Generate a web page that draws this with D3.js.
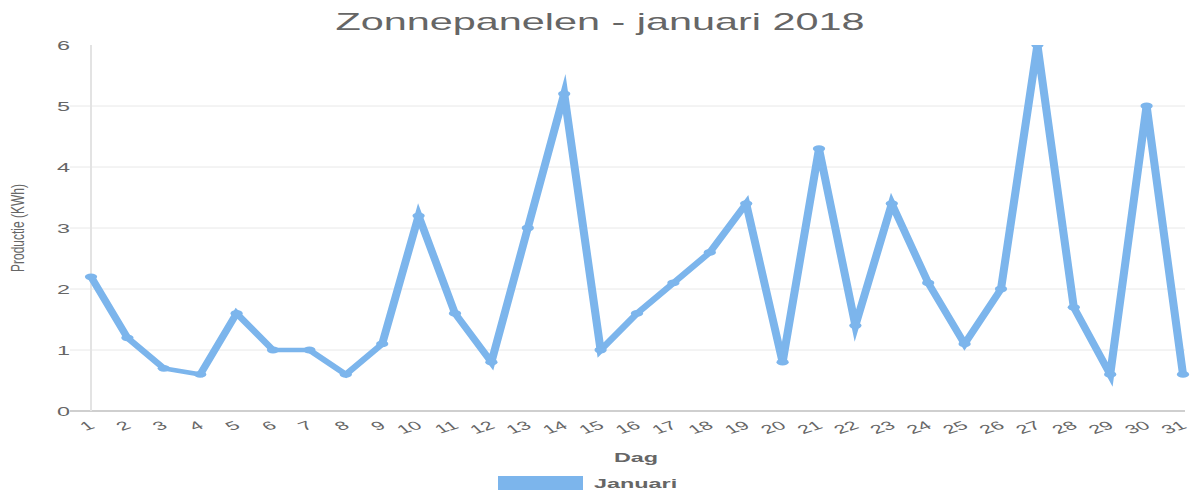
<!DOCTYPE html>
<html><head><meta charset="utf-8">
<script src="https://cdn.jsdelivr.net/npm/d3@7"></script>
<style>
html,body{margin:0;padding:0;background:#fff;}
text{font-family:"Liberation Sans",Arial,Helvetica,sans-serif;}
</style></head>
<body><svg id="c" width="1200" height="500"></svg>
<script>
const days = d3.range(1, 32).map(String);
const januari = [2.2,1.2,0.7,0.6,1.6,1.0,1.0,0.6,1.1,3.2,1.6,0.8,3.0,5.2,1.0,1.6,2.1,2.6,3.4,0.8,4.3,1.4,3.4,2.1,1.1,2.0,6.0,1.7,0.6,5.0,0.6];
const yTicks = [0,1,2,3,4,5,6];
const chartTitle = "Zonnepanelen - januari 2018";
const yTitle = "Productie (KWh)";
const xTitle = "Dag";
const seriesName = "Januari";

const SX = 1.8;           // horizontal stretch of the picture
const color = "rgb(124,181,236)";
const txt = "#666";
const pLeft = 91, pRight = 1183, pTop = 45, pBottom = 411;

const svg = d3.select("#c");
const y = d3.scaleLinear().domain([0, 6]).range([pBottom, pTop]);
const x = d3.scalePoint().domain(days).range([pLeft / SX, pRight / SX]);

// grid
svg.append("g").selectAll("line").data(yTicks.filter(d => d < 6)).join("line")
  .attr("x1", 70).attr("x2", 1185)
  .attr("y1", d => y(d)).attr("y2", d => y(d))
  .attr("stroke", d => d === 0 ? "#cfcfcf" : "#e8e8e8").attr("stroke-width", d => d === 0 ? 2 : 1);
svg.append("line").attr("x1", pLeft).attr("x2", pLeft).attr("y1", pTop).attr("y2", pBottom)
  .attr("stroke", "#e3e3e3").attr("stroke-width", 2);

// y tick labels
svg.append("g").selectAll("text").data(yTicks).join("text")
  .attr("transform", d => `translate(70,${y(d)}) scale(${SX},1)`)
  .attr("text-anchor", "end").attr("dy", "0.36em")
  .attr("font-size", 13).attr("fill", txt).text(d => d);

// x tick labels
svg.append("g").selectAll("text").data(days).join("text")
  .attr("transform", d => `translate(${x(d) * SX + 1},424) scale(${SX},1) rotate(-30)`)
  .attr("text-anchor", "end").attr("dy", "0.35em")
  .attr("font-size", 12).attr("fill", txt).text(d => d);

// plot (stretched)
const clip = svg.append("defs").append("clipPath").attr("id", "cp");
clip.append("rect").attr("x", 0).attr("y", pTop).attr("width", 1200).attr("height", 460);
const pg = svg.append("g").attr("clip-path", "url(#cp)")
  .append("g").attr("transform", `scale(${SX},1)`);
const line = d3.line().x((d, i) => x(days[i])).y(d => y(d));
pg.append("path").datum(januari).attr("d", line)
  .attr("fill", "none").attr("stroke", color).attr("stroke-width", 4.5)
  .attr("stroke-linejoin", "miter").attr("stroke-miterlimit", 9);
pg.selectAll("circle").data(januari).join("circle")
  .attr("cx", (d, i) => x(days[i])).attr("cy", d => y(d)).attr("r", 3.4)
  .attr("fill", color);

// titles
svg.append("text").attr("transform", `translate(600,30) scale(${SX},1)`)
  .attr("text-anchor", "middle").attr("font-size", 23).attr("fill", txt).text(chartTitle);
svg.append("text").attr("transform", `translate(24,228) scale(1.5,1) rotate(-90)`)
  .attr("text-anchor", "middle").attr("font-size", 12).attr("fill", txt).text(yTitle);
svg.append("text").attr("transform", `translate(636,462) scale(${SX},1)`)
  .attr("text-anchor", "middle").attr("font-size", 13).attr("font-weight", "bold").attr("fill", txt).text(xTitle);

// legend
svg.append("rect").attr("x", 498).attr("y", 476).attr("width", 85).attr("height", 14).attr("fill", color);
svg.append("text").attr("transform", `translate(594,488) scale(${SX},1)`)
  .attr("font-size", 13).attr("font-weight", "bold").attr("fill", txt).text(seriesName);
</script></body></html>
